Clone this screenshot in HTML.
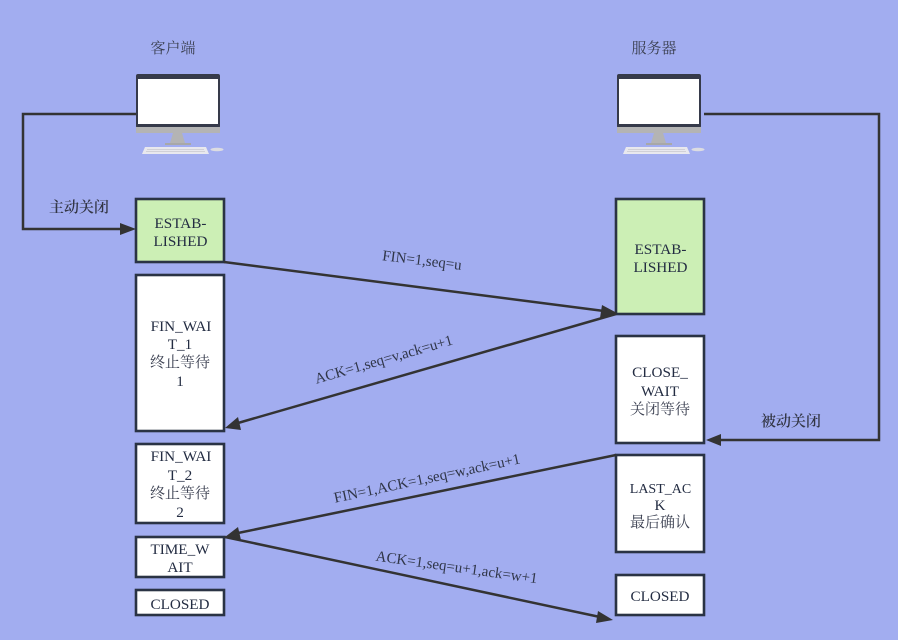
<!DOCTYPE html>
<html><head><meta charset="utf-8"><style>
html,body{margin:0;padding:0;background:#a2adf0}
svg{display:block}
text{font-family:"Liberation Serif","Noto Serif CJK SC",serif;font-size:15.2px;fill:#232c42;text-anchor:middle}
.n{fill:#3a3f50;font-size:15px}
.h{fill:#333645;font-size:15px;font-weight:600}
.t{font-size:15px;fill:#303648}
.b{stroke:#2a3344;stroke-width:2.6}
.l{fill:none;stroke:#333;stroke-width:2.5}
.a{fill:#333}
</style></head><body>
<svg width="898" height="640" viewBox="0 0 898 640" xmlns="http://www.w3.org/2000/svg">
<rect width="898" height="640" fill="#a2adf0"/>
<defs>
<g id="pc">
<rect x="0" y="-1" width="84" height="54" rx="2" fill="#363a4a"/>
<rect x="2" y="4" width="80" height="45" fill="#fff"/>
<rect x="0" y="52" width="84" height="6" fill="#b4b4b4"/>
<polygon points="37,58 46,58 49,68 34,68" fill="#b4b4b4"/>
<rect x="29" y="68" width="26" height="2" fill="#a8a8a8"/>
<polygon points="9,72 70,72 73,79 6,79" fill="#e8e8ee"/>
<path d="M11 74.5H68M10 76.5H69" stroke="#c8c8d0" stroke-width="0.8"/>
<ellipse cx="81" cy="74.5" rx="6.5" ry="1.8" fill="#dcdce2"/>
</g>
</defs>
<text x="173" y="53" class="n">客户端</text>
<text x="654" y="53" class="n">服务器</text>
<use href="#pc" x="136" y="75"/>
<use href="#pc" x="617" y="75"/>

<rect class="b" x="136" y="199" width="88" height="63" fill="#ccefb5"/>
<text x="180.5" y="228">ESTAB-</text><text x="180.5" y="246">LISHED</text>
<rect class="b" x="136" y="275" width="88" height="156" fill="#fff"/>
<text x="181" y="331">FIN_WAI</text><text x="180" y="349">T_1</text><text x="180" y="367" class="n">终止等待</text><text x="180" y="386">1</text>
<rect class="b" x="136" y="444" width="88" height="79" fill="#fff"/>
<text x="181" y="461">FIN_WAI</text><text x="180" y="480">T_2</text><text x="180" y="498" class="n">终止等待</text><text x="180" y="517">2</text>
<rect class="b" x="136" y="537" width="88" height="40" fill="#fff"/>
<text x="180" y="554">TIME_W</text><text x="180" y="572">AIT</text>
<rect class="b" x="136" y="590" width="88" height="25" fill="#fff"/>
<text x="180" y="609">CLOSED</text>

<rect class="b" x="616" y="199" width="88" height="115" fill="#ccefb5"/>
<text x="660.5" y="254">ESTAB-</text><text x="660.5" y="272">LISHED</text>
<rect class="b" x="616" y="336" width="88" height="107" fill="#fff"/>
<text x="660" y="377">CLOSE_</text><text x="660" y="396">WAIT</text><text x="660" y="414" class="n">关闭等待</text>
<rect class="b" x="616" y="455" width="88" height="97" fill="#fff"/>
<text x="660.5" y="493" style="font-size:14px">LAST_AC</text><text x="660" y="510">K</text><text x="660" y="527" class="n">最后确认</text>
<rect class="b" x="616" y="575" width="88" height="40" fill="#fff"/>
<text x="660" y="601">CLOSED</text>

<polyline class="l" points="136,114 23,114 23,229 122,229"/>
<polygon class="a" points="136,229 120,223 120,235"/>
<polyline class="l" points="704,114 879,114 879,440 720,440"/>
<polygon class="a" points="706,440 721,434 721,446"/>
<text x="79" y="212" class="h">主动关闭</text>
<text x="791" y="426" class="h">被动关闭</text>

<line class="l" x1="224" y1="262" x2="604" y2="311"/>
<polygon class="a" points="617,313 602,305 600,318"/>
<line class="l" x1="616" y1="314" x2="238" y2="423"/>
<polygon class="a" points="225,428 241,430 238,417"/>
<line class="l" x1="616" y1="455" x2="238" y2="533"/>
<polygon class="a" points="225,537 241,540 238,527"/>
<line class="l" x1="225" y1="537" x2="600" y2="617"/>
<polygon class="a" points="613,620 598,611 596,623"/>

<text x="421.5" y="265" class="t" transform="rotate(7 421.5 265)">FIN=1,seq=u</text>
<text x="385" y="364" class="t" transform="rotate(-16 385 364)">ACK=1,seq=v,ack=u+1</text>
<text x="428" y="483" class="t" transform="rotate(-12 428 483)">FIN=1,ACK=1,seq=w,ack=u+1</text>
<text x="456" y="572" class="t" transform="rotate(8 456 572)">ACK=1,seq=u+1,ack=w+1</text>
</svg>
</body></html>
